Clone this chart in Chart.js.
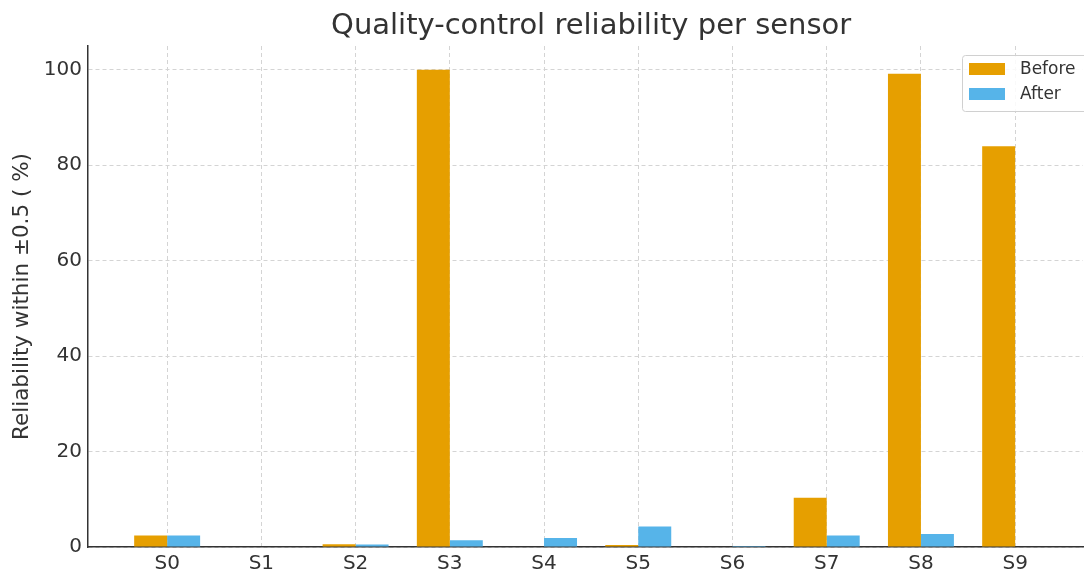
<!DOCTYPE html>
<html>
<head>
<meta charset="utf-8">
<script src="https://cdn.jsdelivr.net/npm/chart.js@4"></script>
<style>
  html, body { margin: 0; padding: 0; background: #fff; }
  #wrap { width: 1084px; height: 570px; }
</style>
</head>
<body>
<div id="wrap"><canvas id="myChart"></canvas></div>
<script>
// sensors and reliability values (%)
const sensors = ["S0", "S1", "S2", "S3", "S4", "S5", "S6", "S7", "S8", "S9"];
const before = [2.4, 0, 0.6, 100, 0, 0.4, 0, 10.3, 99.2, 84.0];
const after = [2.4, 0, 0.5, 1.4, 1.9, 4.3, 0.2, 2.4, 2.7, 0];
const yTicks = [0, 20, 40, 60, 80, 100];
const chartTitle = 'Quality-control reliability per sensor';

const FONT = "'DejaVu Sans', sans-serif";

/* title centred over the plot (not the whole canvas) */
const plotTitle = {
  id: 'plotTitle',
  afterDraw(chart) {
    const c = chart.ctx;
    const xs = chart.scales.x;
    c.save();
    c.font = '29px ' + FONT;
    c.fillStyle = '#333';
    c.textAlign = 'center';
    c.textBaseline = 'middle';
    c.fillText(chartTitle, xs.getPixelForValue(4.5), 26);
    c.restore();
  }
};

/* legend drawn inside the plot, top right, like the original */
const boxLegend = {
  id: 'boxLegend',
  afterDraw(chart) {
    const ctx = chart.ctx;
    const x = 962, y = 55, w = 130, h = 56;
    ctx.save();
    ctx.fillStyle = 'rgba(255,255,255,0.85)';
    ctx.strokeStyle = '#d0d0d0';
    ctx.lineWidth = 1;
    ctx.beginPath();
    ctx.roundRect(x + 0.5, y + 0.5, w, h, 3);
    ctx.fill();
    ctx.stroke();
    ctx.font = '17px ' + FONT;
    ctx.textBaseline = 'middle';
    chart.data.datasets.forEach((ds, i) => {
      const rowY = y + 14 + i * 25;
      ctx.fillStyle = ds.backgroundColor;
      ctx.fillRect(x + 7, rowY - 6, 36, 12);
      ctx.fillStyle = '#333';
      ctx.fillText(ds.label, x + 58, rowY + 1);
    });
    ctx.restore();
  }
};

const ctx = document.getElementById('myChart').getContext('2d');
const myChart = new Chart(ctx, {
  type: 'bar',
  data: {
    datasets: [{
      label: 'Before',
      data: before.map((v, i) => ({ x: i, y: v })),
      backgroundColor: '#E69F00',
      borderWidth: 0
    }, {
      label: 'After',
      data: after.map((v, i) => ({ x: i, y: v })),
      backgroundColor: '#56B4E9',
      borderWidth: 0
    }]
  },
  options: {
    responsive: true,
    maintainAspectRatio: false,
    animation: false,
    categoryPercentage: 0.7,
    barPercentage: 1.0,
    layout: { padding: { left: 0, right: 1, top: 46, bottom: 0 } },
    scales: {
      x: {
        type: 'linear',
        offset: false,
        min: -0.84,
        max: 9.72,
        afterBuildTicks: s => { s.ticks = sensors.map((l, i) => ({ value: i })); },
        afterFit: s => { s.height = 23; },
        ticks: {
          callback: v => sensors[v],
          font: { family: FONT, size: 20 },
          color: '#333',
          padding: 5,
          autoSkip: false,
          maxRotation: 0
        },
        grid: { offset: false, color: '#d4d4d4', lineWidth: 1, drawTicks: false },
        border: { color: '#333', width: 1.5, dash: [4, 3] }
      },
      y: {
        min: 0,
        max: 105,
        afterBuildTicks: s => { s.ticks = yTicks.map(v => ({ value: v })); },
        afterFit: s => { s.width = 88; },
        title: {
          display: true,
          text: 'Reliability within ±0.5 ( %)',
          font: { family: FONT, size: 21.5 },
          color: '#333',
          padding: { top: 10, bottom: 6 }
        },
        ticks: {
          font: { family: FONT, size: 20 },
          color: '#333',
          padding: 6
        },
        grid: { color: '#d4d4d4', lineWidth: 1, drawTicks: false },
        border: { color: '#333', width: 1.5, dash: [4, 3] }
      }
    },
    plugins: {
      legend: { display: false },
      tooltip: { enabled: false },
      title: { display: false }
    }
  },
  plugins: [plotTitle, boxLegend]
});
</script>
</body>
</html>
